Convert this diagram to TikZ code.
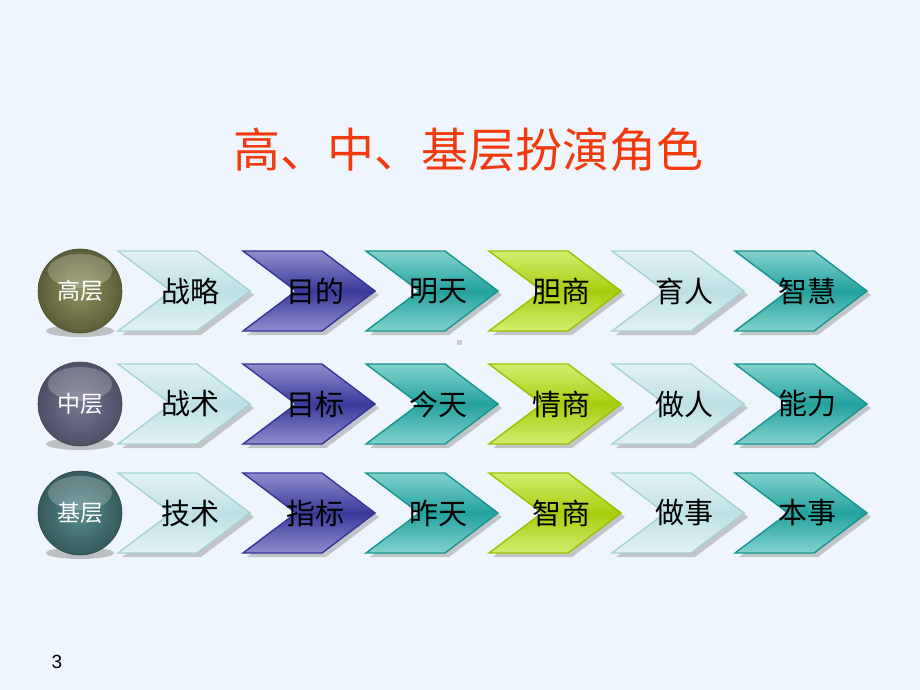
\documentclass[tikz,border=0pt]{standalone}
\usepackage{fontspec}
\setsansfont{Liberation Sans}
\newfontfamily\cjk{Noto Sans CJK SC}
\usetikzlibrary{shapes.geometric}
\definecolor{bgc}{HTML}{EEF5FC}
\definecolor{titlec}{HTML}{F23A0E}
\definecolor{lcO}{HTML}{E2F3F4}\definecolor{lcM}{HTML}{BDE0E4}\definecolor{lcB}{HTML}{A6D2D6}
\definecolor{puO}{HTML}{8E8ECC}\definecolor{puM}{HTML}{3A3A9C}\definecolor{puB}{HTML}{34349A}
\definecolor{teO}{HTML}{82D2CE}\definecolor{teM}{HTML}{23A29E}\definecolor{teB}{HTML}{17948F}
\definecolor{liO}{HTML}{D2EE70}\definecolor{liM}{HTML}{A6CE0E}\definecolor{liB}{HTML}{98C200}
\definecolor{ci1I}{HTML}{8E9260}\definecolor{ci1O}{HTML}{5C5E38}
\definecolor{ci2I}{HTML}{787896}\definecolor{ci2O}{HTML}{4E4E66}
\definecolor{ci3I}{HTML}{5A8A8C}\definecolor{ci3O}{HTML}{355A5C}
\tikzset{
  lbl/.style={font=\cjk\fontsize{29}{29}\selectfont, text=black, inner sep=0pt},
  circlbl/.style={font=\cjk\fontsize{23}{23}\selectfont, text=white, inner sep=0pt},
  titlelbl/.style={font=\cjk\fontsize{47}{47}\selectfont, text=titlec, inner sep=0pt},
}
\newcommand{\chev}[4]{% x0, ymid, colour prefix, label
  \fill[black!35,opacity=0.6] (#1+4,#2-37) -- (#1+83,#2-37) -- (#1+136,#2+4) -- (#1+83,#2+44) -- (#1+4,#2+44) -- (#1+57,#2+4) -- cycle;
  \shade[top color=#3O, bottom color=#3O, middle color=#3M] (#1,#2-40) -- (#1+79,#2-40) -- (#1+132,#2) -- (#1+79,#2+40) -- (#1,#2+40) -- (#1+53,#2) -- cycle;
  \draw[#3B, line width=1.4pt, line join=miter] (#1,#2-40) -- (#1+79,#2-40) -- (#1+132,#2) -- (#1+79,#2+40) -- (#1,#2+40) -- (#1+53,#2) -- cycle;
  \node[lbl] (#4) at (#1+72,#2) {#4};
}
\begin{document}
\begin{tikzpicture}[x=1pt,y=-1pt]
\fill[bgc] (0,0) rectangle (920,690);
\useasboundingbox (0,0) rectangle (920,690);
\node[titlelbl] (title) at (468,150) {高、中、基层扮演角色};
\foreach \y/\cc/\lab/\a/\b/\c/\d/\e/\f in {
  291/ci1/高层/战略/目的/明天/胆商/育人/智慧,
  404/ci2/中层/战术/目标/今天/情商/做人/能力,
  513/ci3/基层/技术/指标/昨天/智商/做事/本事}{
  \fill[black!45,opacity=0.5] (80,\y+40) ellipse (34 and 6);
  \shade[inner color=\cc I, outer color=\cc O] (80,\y) circle (42);
  \fill[white,opacity=0.22] (80,\y-20) ellipse (32 and 17);
  \draw[\cc O!80!black, line width=0.6pt] (80,\y) circle (42);
  \node[circlbl] (c\lab) at (80,\y) {\lab};
  \chev{118}{\y}{lc}{\a}
  \chev{243}{\y}{pu}{\b}
  \chev{366}{\y}{te}{\c}
  \chev{489}{\y}{li}{\d}
  \chev{612}{\y}{lc}{\e}
  \chev{735}{\y}{te}{\f}
}
\fill[black!20] (457,340) rectangle (462,345);
\node[font=\sffamily\fontsize{19}{19}\selectfont, inner sep=0pt] (pg) at (57,662) {3};
\end{tikzpicture}
\end{document}
